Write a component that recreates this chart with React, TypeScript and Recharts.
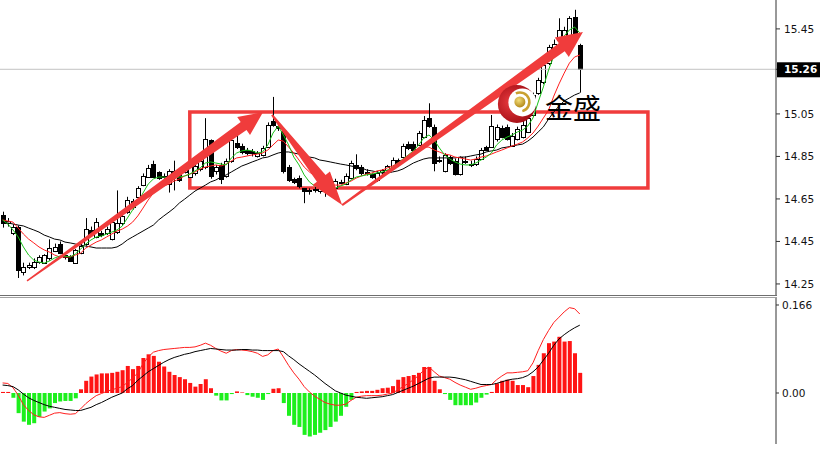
import React from 'react';
import {
  ComposedChart, Bar, Line, XAxis, YAxis, ReferenceLine, ReferenceArea, ReferenceDot, Cell,
} from 'recharts';

// ---- price candles (index 0..111) ----
const opens = [
  14.575, 14.535, 14.49, 14.518, 14.305, 14.33, 14.33, 14.355, 14.35, 14.37,
  14.405, 14.44, 14.385, 14.38, 14.35, 14.395, 14.44, 14.505, 14.47, 14.49,
  14.49, 14.46, 14.495, 14.535, 14.59, 14.64, 14.66, 14.715, 14.755, 14.815,
  14.775, 14.755, 14.72, 14.77, 14.775, 14.775, 14.755, 14.77, 14.79, 14.80,
  14.925, 14.78, 14.81, 14.76, 14.83, 14.915, 14.90, 14.88, 14.875, 14.85,
  14.855, 14.895, 15.015, 14.995, 14.97, 14.80, 14.745, 14.75, 14.70, 14.69,
  14.69, 14.685, 14.70, 14.69, 14.70, 14.73, 14.72, 14.75, 14.81, 14.80,
  14.775, 14.765, 14.74, 14.775, 14.785, 14.80, 14.835, 14.845, 14.91, 14.91,
  14.905, 14.94, 15.03, 14.99, 14.835, 14.78, 14.845, 14.83, 14.765, 14.83,
  14.81, 14.815, 14.84, 14.895, 14.895, 14.93, 14.985, 14.99, 14.90, 14.93,
  14.94, 14.965, 15.045, 15.148, 15.20, 15.29, 15.34, 15.40, 15.41, 15.42,
  15.505, 15.375,
];
const highs = [
  14.59, 14.56, 14.53, 14.525, 14.35, 14.35, 14.37, 14.385, 14.39, 14.46,
  14.44, 14.45, 14.39, 14.385, 14.415, 14.44, 14.56, 14.52, 14.56, 14.50,
  14.52, 14.545, 14.69, 14.58, 14.66, 14.65, 14.71, 14.77, 14.81, 14.83,
  14.78, 14.77, 14.79, 14.83, 14.785, 14.80, 14.82, 14.82, 14.85, 15.03,
  14.93, 14.81, 14.82, 14.84, 14.935, 14.95, 14.91, 14.89, 14.885, 14.875,
  14.90, 15.01, 15.13, 15.005, 14.98, 14.81, 14.75, 14.76, 14.70, 14.70,
  14.71, 14.72, 14.71, 14.715, 14.745, 14.74, 14.77, 14.83, 14.86, 14.81,
  14.79, 14.77, 14.78, 14.79, 14.81, 14.845, 14.84, 14.91, 14.92, 14.92,
  14.97, 15.04, 15.10, 15.0, 14.85, 14.865, 14.855, 14.84, 14.85, 14.85,
  14.83, 14.85, 14.89, 14.90, 15.045, 15.0, 14.995, 15.0, 14.96, 14.99,
  15.05, 15.04, 15.15, 15.22, 15.29, 15.375, 15.40, 15.50, 15.46, 15.51,
  15.54, 15.38,
];
const lows = [
  14.515, 14.52, 14.48, 14.278, 14.29, 14.32, 14.32, 14.345, 14.345, 14.36,
  14.40, 14.39, 14.365, 14.355, 14.345, 14.39, 14.43, 14.48, 14.465, 14.47,
  14.48, 14.455, 14.485, 14.525, 14.58, 14.60, 14.655, 14.71, 14.75, 14.75,
  14.74, 14.745, 14.68, 14.69, 14.73, 14.77, 14.75, 14.76, 14.78, 14.79,
  14.745, 14.765, 14.72, 14.75, 14.82, 14.885, 14.86, 14.855, 14.85, 14.845,
  14.85, 14.89, 14.99, 14.97, 14.77, 14.73, 14.72, 14.70, 14.63, 14.67,
  14.68, 14.675, 14.66, 14.68, 14.69, 14.72, 14.715, 14.745, 14.785, 14.76,
  14.76, 14.745, 14.73, 14.76, 14.775, 14.79, 14.80, 14.84, 14.88, 14.875,
  14.90, 14.935, 14.985, 14.78, 14.82, 14.775, 14.81, 14.76, 14.76, 14.815,
  14.80, 14.805, 14.835, 14.875, 14.89, 14.92, 14.935, 14.925, 14.895, 14.925,
  14.935, 14.96, 15.04, 15.14, 15.19, 15.28, 15.33, 15.39, 15.40, 15.41,
  15.42, 15.15,
];
const closes = [
  14.535, 14.545, 14.52, 14.315, 14.33, 14.34, 14.355, 14.375, 14.385, 14.42,
  14.425, 14.395, 14.375, 14.36, 14.41, 14.43, 14.51, 14.49, 14.54, 14.48,
  14.51, 14.54, 14.535, 14.57, 14.645, 14.61, 14.70, 14.76, 14.795, 14.755,
  14.75, 14.76, 14.78, 14.78, 14.74, 14.79, 14.81, 14.805, 14.83, 14.93,
  14.76, 14.80, 14.745, 14.83, 14.925, 14.895, 14.87, 14.865, 14.865, 14.865,
  14.89, 15.0, 15.0, 14.985, 14.78, 14.74, 14.73, 14.71, 14.685, 14.685,
  14.695, 14.70, 14.695, 14.70, 14.735, 14.725, 14.76, 14.82, 14.795, 14.77,
  14.77, 14.755, 14.77, 14.785, 14.805, 14.835, 14.815, 14.90, 14.89, 14.88,
  14.96, 15.02, 14.995, 14.82, 14.83, 14.855, 14.82, 14.765, 14.845, 14.825,
  14.815, 14.84, 14.88, 14.88, 14.995, 14.99, 14.94, 14.93, 14.945, 14.98,
  15.0, 15.03, 15.14, 15.21, 15.28, 15.365, 15.38, 15.445, 15.445, 15.50,
  15.43, 15.26,
];

// ---- moving averages ----
const maFast = [
  14.551, 14.532, 14.504, 14.471, 14.424, 14.386, 14.362, 14.353, 14.348, 14.358,
  14.372, 14.381, 14.381, 14.377, 14.391, 14.414, 14.438, 14.457, 14.471, 14.475,
  14.485, 14.494, 14.504, 14.522, 14.560, 14.598, 14.631, 14.678, 14.720, 14.744,
  14.753, 14.753, 14.748, 14.748, 14.753, 14.758, 14.767, 14.782, 14.796, 14.819,
  14.824, 14.819, 14.814, 14.810, 14.843, 14.866, 14.876, 14.880, 14.876, 14.866,
  14.871, 14.904, 14.960, 14.993, 14.951, 14.904, 14.847, 14.810, 14.763, 14.730,
  14.711, 14.701, 14.692, 14.692, 14.701, 14.711, 14.720, 14.739, 14.753, 14.758,
  14.763, 14.767, 14.772, 14.777, 14.786, 14.800, 14.819, 14.838, 14.857, 14.876,
  14.904, 14.937, 14.951, 14.927, 14.890, 14.857, 14.838, 14.824, 14.814, 14.810,
  14.810, 14.819, 14.833, 14.847, 14.866, 14.904, 14.927, 14.941, 14.951, 14.965,
  14.974, 14.993, 15.031, 15.106, 15.177, 15.257, 15.322, 15.379, 15.417, 15.445,
  15.459, 15.431,
];
const maMid = [
  14.551, 14.546, 14.541, 14.513, 14.485, 14.461, 14.443, 14.424, 14.410, 14.400,
  14.386, 14.377, 14.377, 14.377, 14.386, 14.395, 14.419, 14.433, 14.447, 14.457,
  14.471, 14.485, 14.499, 14.508, 14.522, 14.541, 14.570, 14.607, 14.645, 14.678,
  14.701, 14.711, 14.720, 14.734, 14.744, 14.758, 14.767, 14.777, 14.791, 14.800,
  14.805, 14.810, 14.805, 14.814, 14.829, 14.843, 14.847, 14.852, 14.857, 14.861,
  14.866, 14.880, 14.904, 14.927, 14.922, 14.894, 14.866, 14.833, 14.800, 14.777,
  14.758, 14.739, 14.730, 14.720, 14.715, 14.715, 14.725, 14.734, 14.748, 14.758,
  14.767, 14.772, 14.782, 14.786, 14.796, 14.805, 14.819, 14.833, 14.852, 14.871,
  14.885, 14.894, 14.894, 14.880, 14.871, 14.861, 14.857, 14.847, 14.843, 14.838,
  14.833, 14.838, 14.847, 14.852, 14.861, 14.871, 14.880, 14.890, 14.899, 14.908,
  14.918, 14.937, 14.960, 14.993, 15.031, 15.068, 15.134, 15.191, 15.242, 15.289,
  15.318, 15.327,
];
const maSlow = [
  14.541, 14.537, 14.532, 14.527, 14.523, 14.513, 14.504, 14.494, 14.480, 14.471,
  14.461, 14.457, 14.447, 14.443, 14.438, 14.433, 14.428, 14.424, 14.419, 14.419,
  14.419, 14.419, 14.424, 14.438, 14.457, 14.471, 14.485, 14.499, 14.513, 14.527,
  14.551, 14.570, 14.588, 14.607, 14.631, 14.649, 14.668, 14.687, 14.701, 14.715,
  14.730, 14.739, 14.753, 14.763, 14.777, 14.791, 14.805, 14.814, 14.824, 14.833,
  14.843, 14.847, 14.857, 14.866, 14.871, 14.871, 14.866, 14.861, 14.852, 14.847,
  14.843, 14.833, 14.829, 14.824, 14.819, 14.814, 14.810, 14.805, 14.800, 14.796,
  14.786, 14.782, 14.777, 14.772, 14.772, 14.777, 14.782, 14.791, 14.805, 14.819,
  14.829, 14.838, 14.843, 14.843, 14.843, 14.843, 14.843, 14.843, 14.847, 14.847,
  14.852, 14.857, 14.861, 14.871, 14.876, 14.880, 14.890, 14.894, 14.899, 14.904,
  14.908, 14.922, 14.941, 14.965, 14.989, 15.026, 15.059, 15.087, 15.111, 15.125,
  15.139, 15.149,
];

// ---- MACD panel ----
const macdHist = [
  0.002, 0.002, -0.009, -0.038, -0.054, -0.060, -0.057, -0.045, -0.035, -0.029,
  -0.019, -0.016, -0.015, -0.015, -0.010, 0.007, 0.023, 0.031, 0.035, 0.037,
  0.037, 0.038, 0.040, 0.043, 0.051, 0.045, 0.051, 0.066, 0.073, 0.070,
  0.059, 0.050, 0.040, 0.034, 0.030, 0.026, 0.019, 0.012, 0.017, 0.026,
  0.009, -0.005, -0.014, -0.014, -0.002, 0.003, 0.001, -0.004, -0.007, -0.009,
  -0.013, -0.002, 0.008, 0.009, -0.019, -0.043, -0.060, -0.064, -0.079, -0.082,
  -0.079, -0.075, -0.070, -0.064, -0.054, -0.043, -0.026, -0.013, 0.002, 0.003,
  0.004, 0.004, 0.006, 0.009, 0.010, 0.013, 0.025, 0.030, 0.032, 0.034,
  0.038, 0.049, 0.049, 0.023, 0.007, -0.002, -0.013, -0.023, -0.023, -0.023,
  -0.023, -0.018, -0.009, -0.003, 0.002, 0.018, 0.023, 0.025, 0.023, 0.015,
  0.015, 0.011, 0.032, 0.053, 0.075, 0.094, 0.097, 0.106, 0.097, 0.098,
  0.075, 0.038,
];
const macdRed = [
  0.019, 0.018, 0.010, -0.004, -0.022, -0.033, -0.041, -0.045, -0.046, -0.042,
  -0.038, -0.037, -0.039, -0.040, -0.039, -0.030, -0.020, -0.012, -0.005, -0.001,
  0.003, 0.006, 0.009, 0.012, 0.020, 0.028, 0.038, 0.055, 0.068, 0.077,
  0.080, 0.082, 0.083, 0.084, 0.085, 0.086, 0.086, 0.087, 0.090, 0.094,
  0.090, 0.084, 0.079, 0.075, 0.080, 0.082, 0.081, 0.080, 0.078, 0.075,
  0.069, 0.072, 0.080, 0.083, 0.068, 0.052, 0.038, 0.026, 0.012, 0.002,
  -0.006, -0.012, -0.018, -0.021, -0.023, -0.023, -0.021, -0.014, -0.008, -0.006,
  -0.005, -0.005, -0.005, -0.004, -0.002, 0.000, 0.006, 0.012, 0.018, 0.025,
  0.033, 0.043, 0.049, 0.040, 0.032, 0.029, 0.026, 0.020, 0.015, 0.011,
  0.007, 0.009, 0.012, 0.014, 0.016, 0.025, 0.032, 0.038, 0.038, 0.039,
  0.040, 0.042, 0.057, 0.080, 0.101, 0.118, 0.133, 0.143, 0.153, 0.161,
  0.159, 0.149,
];
const macdBlack = [
  0.015, 0.014, 0.012, 0.006, -0.002, -0.009, -0.014, -0.018, -0.022, -0.025,
  -0.027, -0.029, -0.031, -0.032, -0.033, -0.033, -0.030, -0.027, -0.022, -0.018,
  -0.013, -0.008, -0.004, 0.000, 0.008, 0.014, 0.024, 0.032, 0.040, 0.046,
  0.052, 0.058, 0.063, 0.067, 0.070, 0.073, 0.075, 0.078, 0.080, 0.082,
  0.084, 0.083, 0.082, 0.081, 0.081, 0.081, 0.082, 0.082, 0.081, 0.081,
  0.080, 0.080, 0.080, 0.080, 0.078, 0.070, 0.063, 0.055, 0.048, 0.041,
  0.034, 0.026, 0.018, 0.011, 0.004, 0.000, -0.004, -0.006, -0.008, -0.009,
  -0.010, -0.009, -0.008, -0.007, -0.005, -0.003, 0.001, 0.005, 0.009, 0.013,
  0.018, 0.023, 0.028, 0.030, 0.030, 0.030, 0.030, 0.029, 0.027, 0.025,
  0.022, 0.019, 0.016, 0.016, 0.016, 0.018, 0.021, 0.024, 0.026, 0.027,
  0.029, 0.033, 0.040, 0.049, 0.062, 0.075, 0.090, 0.102, 0.110, 0.117,
  0.123, 0.128,
];

// ---- axes ----
const priceTicks = [14.25, 14.45, 14.65, 14.85, 15.05, 15.26, 15.45];
const currentPrice = 15.26;
const macdTicks = [0, 0.166];

// ---- annotations (data coordinates: candle index, price) ----
const boxX = [36.0, 124.1];
const boxY = [14.701, 15.059];
const arrowUp1 = [{ x: 4.7, y: 14.264 }, { x: 50.1, y: 15.059 }];
const arrowDown = [{ x: 51.8, y: 15.045 }, { x: 65.3, y: 14.621 }];
const arrowUp2 = [{ x: 65.3, y: 14.621 }, { x: 111.6, y: 15.435 }];
const logoAt = { x: 98.9, y: 15.097 };
const logoText = '金盛';

const priceRows = closes.map((c, i) => ({
  i,
  range: [lows[i], highs[i]],
  o: opens[i],
  h: highs[i],
  l: lows[i],
  c,
  fast: maFast[i],
  mid: maMid[i],
  slow: maSlow[i],
}));
const macdRows = macdHist.map((v, i) => ({ i, hist: v, red: macdRed[i], black: macdBlack[i] }));

const X_DOMAIN: [number, number] = [-0.5, 148.73];
const FONT = 'DejaVu Sans';
const RED = '#f03c3c';

const CandleShape = (props: any) => {
  const { x, y, width, height, payload } = props;
  if (x == null || y == null || !payload) return null;
  const { o, h, l, c } = payload;
  const top0 = Math.min(y, y + height);
  const total = Math.abs(height);
  const k = total / ((h - l) || 1e-9);
  const cx = Math.floor(x + width / 2) + 0.5;
  const yO = top0 + (h - o) * k;
  const yC = top0 + (h - c) * k;
  const top = Math.round(Math.min(yO, yC)) + 0.5;
  let bot = Math.round(Math.max(yO, yC)) + 0.5;
  if (bot - top < 1) bot = top + 1;
  const up = c >= o;
  return (
    <g>
      <line x1={cx} x2={cx} y1={top0} y2={top0 + total} stroke="#000" strokeWidth={1} />
      <rect x={cx - 2} y={top} width={4} height={bot - top} fill={up ? '#fff' : '#000'} stroke="#000" strokeWidth={1} />
    </g>
  );
};

const makeArrow = (w0: number, w1: number, headLen: number, headW: number) => (p: any) => {
  const { x1, y1, x2, y2 } = p;
  if ([x1, y1, x2, y2].some((v) => v == null || isNaN(v))) return <g />;
  const dx = x2 - x1;
  const dy = y2 - y1;
  const len = Math.hypot(dx, dy) || 1;
  const ux = dx / len;
  const uy = dy / len;
  const nx = -uy;
  const ny = ux;
  const bx = x2 - ux * headLen;
  const by = y2 - uy * headLen;
  const pts = [
    [x1 + nx * w0 / 2, y1 + ny * w0 / 2],
    [bx + nx * w1 / 2, by + ny * w1 / 2],
    [bx + nx * headW / 2, by + ny * headW / 2],
    [x2, y2],
    [bx - nx * headW / 2, by - ny * headW / 2],
    [bx - nx * w1 / 2, by - ny * w1 / 2],
    [x1 - nx * w0 / 2, y1 - ny * w0 / 2],
  ];
  return <polygon points={pts.map((q) => q.join(',')).join(' ')} fill={RED} />;
};

const LogoShape = (props: any) => {
  const { cx, cy } = props;
  if (cx == null || cy == null) return null;
  const gx = cx + 3;
  const gy = cy - 2;
  const r = 9.5;
  const a0 = (-115 * Math.PI) / 180;
  const a1 = (75 * Math.PI) / 180;
  const arc = `M ${gx + r * Math.cos(a0)} ${gy + r * Math.sin(a0)} A ${r} ${r} 0 1 1 ${gx + r * Math.cos(a1)} ${gy + r * Math.sin(a1)}`;
  return (
    <g>
      <defs>
        <radialGradient id="lgRed" cx="35%" cy="45%" r="65%">
          <stop offset="0%" stopColor="#ea3a3f" />
          <stop offset="100%" stopColor="#9e0b12" />
        </radialGradient>
        <radialGradient id="lgGold" cx="40%" cy="35%" r="65%">
          <stop offset="0%" stopColor="#f4de7a" />
          <stop offset="100%" stopColor="#b48a1c" />
        </radialGradient>
      </defs>
      <circle cx={cx} cy={cy} r={19} fill="url(#lgRed)" />
      <circle cx={cx + 5.5} cy={cy - 1.5} r={14} fill="#fff" />
      <path d={arc} fill="none" stroke="#c9a030" strokeWidth={2.5} />
      <circle cx={gx} cy={gy} r={5.5} fill="url(#lgGold)" />
      <text x={cx + 28} y={cy + 15} fontSize={28} fontFamily="Noto Sans CJK SC" fill="#000">
        {logoText}
      </text>
    </g>
  );
};

const PriceTick = (props: any) => {
  const { x, y, payload } = props;
  const v = payload.value;
  if (Math.abs(v - currentPrice) < 1e-6) {
    return (
      <g>
        <rect x={x - 6} y={y - 7} width={43} height={15} fill="#000" />
        <text x={x + 1} y={y + 4} fill="#fff" fontSize={10.5} fontFamily={FONT} fontWeight="bold">
          {v.toFixed(2)}
        </text>
      </g>
    );
  }
  return (
    <text x={x + 1} y={y + 4} fill="#111" fontSize={10.5} fontFamily={FONT}>
      {v.toFixed(2)}
    </text>
  );
};

const MacdTick = (props: any) => {
  const { x, y, payload } = props;
  const v = payload.value;
  return (
    <text x={x} y={y + 4} fill="#111" fontSize={10.5} fontFamily={FONT}>
      {v === 0 ? '0.00' : v.toFixed(3)}
    </text>
  );
};

export default function App() {
  return (
    <div style={{ position: 'absolute', left: 0, top: 0, width: 823, height: 451, background: '#fff', overflow: 'hidden' }}>
      <div style={{ position: 'absolute', left: 0, top: 0 }}>
        <ComposedChart width={823} height={295} data={priceRows} margin={{ top: 0, right: 0, bottom: 0, left: 0 }}>
          <XAxis dataKey="i" type="number" domain={X_DOMAIN} allowDataOverflow hide />
          <YAxis
            orientation="right"
            width={47}
            domain={[14.198, 15.586]}
            allowDataOverflow
            ticks={priceTicks}
            interval={0}
            tick={<PriceTick />}
            tickSize={4}
            tickMargin={3}
            axisLine={{ stroke: '#333' }}
            tickLine={{ stroke: '#333' }}
          />
          <ReferenceLine y={currentPrice} stroke="#c2c2c2" strokeWidth={1} />
          <Bar dataKey="range" barSize={4} shape={<CandleShape />} isAnimationActive={false} />
          <Line dataKey="slow" stroke="#000" strokeWidth={1} dot={false} activeDot={false} isAnimationActive={false} type="linear" />
          <Line dataKey="mid" stroke="#ff1e1e" strokeWidth={1} dot={false} activeDot={false} isAnimationActive={false} type="linear" />
          <Line dataKey="fast" stroke="#19c219" strokeWidth={1} dot={false} activeDot={false} isAnimationActive={false} type="linear" />
          <ReferenceArea
            x1={boxX[0]}
            x2={boxX[1]}
            y1={boxY[0]}
            y2={boxY[1]}
            fill="none"
            fillOpacity={0}
            stroke={RED}
            strokeWidth={3.5}
            ifOverflow="visible"
          />
          <ReferenceLine segment={arrowUp1} shape={makeArrow(1.5, 10, 24, 22)} ifOverflow="visible" />
          <ReferenceLine segment={arrowDown} shape={makeArrow(2, 11, 34, 22)} ifOverflow="visible" />
          <ReferenceLine segment={arrowUp2} shape={makeArrow(2, 10, 26, 24)} ifOverflow="visible" />
          <ReferenceDot x={logoAt.x} y={logoAt.y} r={19} shape={<LogoShape />} ifOverflow="visible" />
        </ComposedChart>
      </div>
      <div style={{ position: 'absolute', left: 0, top: 295, width: 777, height: 1, background: '#6e6e6e' }} />
      <div style={{ position: 'absolute', left: 0, top: 297, width: 777, height: 1, background: '#a2a2a2' }} />
      <div style={{ position: 'absolute', left: 0, top: 298 }}>
        <ComposedChart width={823} height={146} data={macdRows} margin={{ top: 0, right: 0, bottom: 0, left: 0 }}>
          <XAxis dataKey="i" type="number" domain={X_DOMAIN} allowDataOverflow hide />
          <YAxis
            orientation="right"
            width={47}
            domain={[-0.0962, 0.1792]}
            allowDataOverflow
            ticks={macdTicks}
            interval={0}
            tick={<MacdTick />}
            tickSize={3}
            tickMargin={3}
            axisLine={{ stroke: '#333' }}
            tickLine={{ stroke: '#333' }}
          />
          <Bar dataKey="hist" barSize={4} isAnimationActive={false}>
            {macdRows.map((r) => (
              <Cell key={r.i} fill={r.hist >= 0 ? '#ff1414' : '#1def1d'} />
            ))}
          </Bar>
          <Line dataKey="red" stroke="#ff1e1e" strokeWidth={1} dot={false} activeDot={false} isAnimationActive={false} type="linear" />
          <Line dataKey="black" stroke="#000" strokeWidth={1} dot={false} activeDot={false} isAnimationActive={false} type="linear" />
        </ComposedChart>
      </div>
    </div>
  );
}
